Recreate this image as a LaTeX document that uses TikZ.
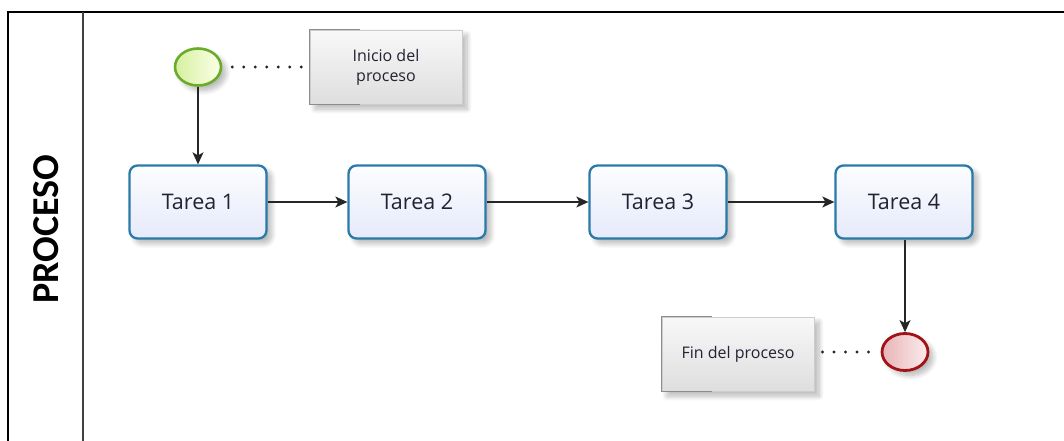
\documentclass[tikz,border=0pt]{standalone}
\usepackage{fontspec}
\setmainfont{Open Sans}
\newfontfamily\lanefont{Carlito}
\usetikzlibrary{arrows.meta,shapes.geometric,shadows.blur}

\definecolor{taskedge}{RGB}{41,121,169}
\definecolor{tasktop}{RGB}{252,253,255}
\definecolor{taskbot}{RGB}{230,234,250}
\definecolor{startedge}{RGB}{104,172,40}
\definecolor{startlight}{RGB}{252,255,232}
\definecolor{startdark}{RGB}{214,240,160}
\definecolor{endedge}{RGB}{160,20,24}
\definecolor{endlight}{RGB}{252,236,236}
\definecolor{enddark}{RGB}{232,180,182}
\definecolor{notelight}{RGB}{248,248,248}
\definecolor{notedark}{RGB}{222,222,222}
\definecolor{noteedge}{RGB}{205,205,205}
\definecolor{bracket}{RGB}{140,140,140}
\definecolor{textdark}{RGB}{34,34,50}

\tikzset{
  softshadow/.style={blur shadow={shadow xshift=5pt,shadow yshift=-5pt,
      shadow blur steps=10,shadow blur radius=5pt,shadow opacity=28}},
  taskbox/.style={draw=taskedge,line width=2.3pt,rounded corners=8pt,
      minimum width=137pt,minimum height=73pt,inner sep=0pt,
      top color=tasktop,bottom color=taskbot,softshadow,
      text=textdark,font=\fontsize{21.5}{26}\selectfont},
  startevent/.style={ellipse,draw=startedge,line width=2.6pt,
      minimum width=46pt,minimum height=37pt,inner sep=0pt,
      left color=startdark,right color=startlight,softshadow},
  endevent/.style={ellipse,draw=endedge,line width=2.8pt,
      minimum width=46pt,minimum height=37pt,inner sep=0pt,
      left color=enddark,right color=endlight,softshadow},
  notebox/.style={draw=noteedge,line width=0.8pt,
      minimum width=152pt,minimum height=74pt,inner sep=0pt,
      top color=notelight,bottom color=notedark,softshadow,
      text=textdark,align=center,font=\fontsize{16}{20}\selectfont},
  flow/.style={draw=black!85,line width=1.3pt,
      -{Stealth[length=12pt,width=11pt,inset=3pt]}},
  assoc/.style={draw=black!85,line width=3.2pt,line cap=round,
      dash pattern=on 0pt off 11.5pt},
  lane/.style={draw=black,line width=1.6pt},
}

\begin{document}
\begin{tikzpicture}[x=1pt,y=-1pt]
  \useasboundingbox (0,0) rectangle (1064,441);

  % pool frame and lane header
  \draw[lane] (8,441) -- (8,12) -- (1064,12);
  \draw[lane,draw=black!75] (83,12) -- (83,441);
  \node[rotate=90,font=\lanefont\bfseries\fontsize{38}{44}\selectfont]
    (lanelabel) at (46,229) {PROCESO};

  % annotations
  \node[notebox] (noteStart) at (386,67) {Inicio del\\proceso};
  \node[notebox] (noteEnd) at (738,354) {Fin del proceso};
  \foreach \n in {noteStart,noteEnd}{
    \draw[bracket,line width=1.4pt]
      ([xshift=50pt]\n.north west) -- (\n.north west) -- (\n.south west)
      -- ([xshift=50pt]\n.south west);
  }

  % events
  \node[startevent] (start) at (198,67) {};
  \node[endevent] (finish) at (905,352) {};

  % tasks
  \node[taskbox] (t1) at (198,202) {Tarea 1};
  \node[taskbox] (t2) at (417,202) {Tarea 2};
  \node[taskbox] (t3) at (658,202) {Tarea 3};
  \node[taskbox] (t4) at (904,202) {Tarea 4};

  % associations
  \draw[assoc] ([xshift=10pt]start.east) -- ([xshift=-2pt]noteStart.west |- start.east);
  \draw[assoc] ([xshift=8pt]noteEnd.east |- finish.west) -- ([xshift=-6pt]finish.west);

  % sequence flows
  \draw[flow] (start.south) -- (t1.north);
  \draw[flow] (t1.east) -- (t2.west);
  \draw[flow] (t2.east) -- (t3.west);
  \draw[flow] (t3.east) -- (t4.west);
  \draw[flow] (t4.south -| finish.north) -- (finish.north);
\end{tikzpicture}
\end{document}
